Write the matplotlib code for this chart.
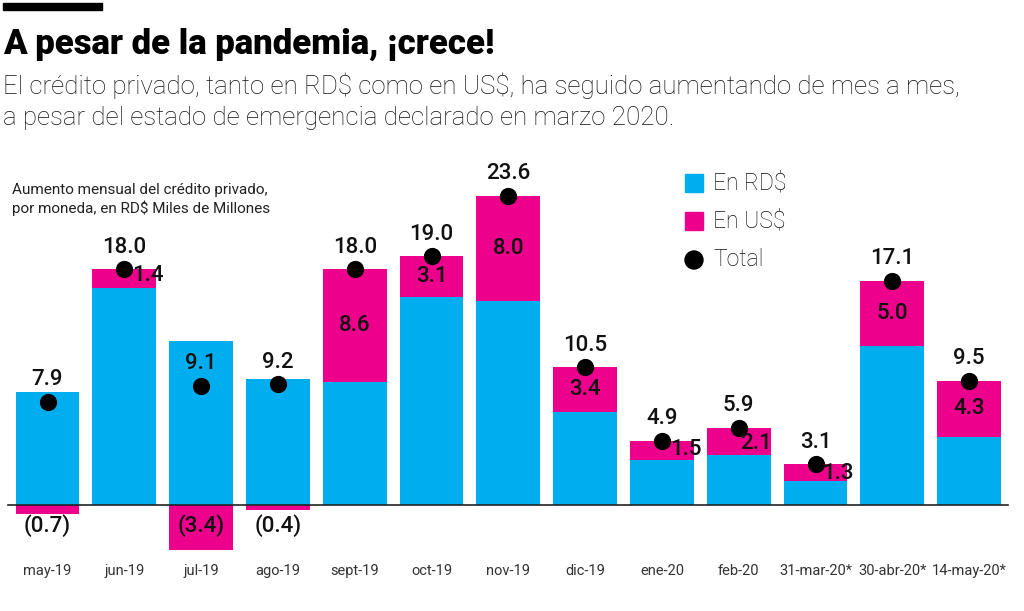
import matplotlib
matplotlib.use("Agg")
import matplotlib.pyplot as plt
import numpy as np

W, H = 1024, 611
CYAN = "#00aeef"
MAGENTA = "#ec008c"
INK = "#111111"
GRAY = "#333333"

months = ["may-19", "jun-19", "jul-19", "ago-19", "sept-19", "oct-19", "nov-19",
          "dic-19", "ene-20", "feb-20", "31-mar-20*", "30-abr-20*", "14-may-20*"]
total = [7.9, 18.0, 9.1, 9.2, 18.0, 19.0, 23.6, 10.5, 4.9, 5.9, 3.1, 17.1, 9.5]
usd = [-0.7, 1.4, -3.4, -0.4, 8.6, 3.1, 8.0, 3.4, 1.5, 2.1, 1.3, 5.0, 4.3]
rd = [round(t - u, 1) for t, u in zip(total, usd)]

plt.rcParams["font.family"] = ["Roboto", "DejaVu Sans"]

fig = plt.figure(figsize=(W / 100, H / 100), dpi=100)
fig.patch.set_facecolor("white")

# axes covering the whole canvas, limits chosen so bars land where the plate has them
ax = fig.add_axes([0, 0, 1, 1])
step = 76.8
x0px = 47.5
ppu = 13.1
base_px = H - 505
ax.set_xlim(-x0px / step, (W - x0px) / step)
ax.set_ylim(-base_px / ppu, (H - base_px) / ppu)
ax.axis("off")

x = np.arange(len(months))
usd_arr = np.array(usd)
rd_arr = np.array(rd)
usd_bottom = np.where(usd_arr >= 0, rd_arr, 0)
bw = 0.83
ax.bar(x, rd_arr, bw, color=CYAN, zorder=2)
ax.bar(x, usd_arr, bw, bottom=usd_bottom, color=MAGENTA, zorder=2)
ax.scatter(x, total, s=130, color="black", zorder=4)
ax.axhline(0, xmin=8 / W, xmax=1008 / W, color="#222222", lw=1.2, zorder=3)

LBL = dict(fontsize=16, fontweight="medium", color=INK, zorder=5, ha="center", va="center")

# total labels
for i, t in enumerate(total):
    ax.annotate(f"{t:.1f}", (i, t), xytext=(0, 22), textcoords="offset pixels", **LBL)

# US$ labels
small_off = {1: (24, -6), 8: (24, -9), 9: (17, -16), 10: (22, -9)}
for i, u in enumerate(usd):
    if u < 0:
        ax.annotate(f"({abs(u):.1f})", (i, 0), xytext=(0, -21), textcoords="offset pixels", **LBL)
    elif i in small_off:
        dx, dy = small_off[i]
        ax.annotate(f"{u:.1f}", (i, total[i]), xytext=(dx, dy), textcoords="offset pixels", **LBL)
    else:
        ax.text(i, rd[i] + u / 2, f"{u:.1f}", **LBL)

# month labels
for i, m in enumerate(months):
    ax.annotate(m, (i, 0), xytext=(0, -66), textcoords="offset pixels",
                ha="center", va="center", fontsize=10.5, color=GRAY)


def ftext(px, py, s, **kw):
    fig.text(px / W, 1 - py / H, s, **kw)


# header block
fig.patches.append(plt.Rectangle((3 / W, 1 - 10 / H), 99 / W, 7 / H,
                                 transform=fig.transFigure, color="black"))
ftext(3, 44, "A pesar de la pandemia, ¡crece!", fontsize=25, fontweight="black",
      va="center", ha="left", color="black")
ftext(3, 86, "El crédito privado, tanto en RD\\$ como en US\\$, ha seguido aumentando de mes a mes,",
      fontsize=18.6, fontweight="light", va="center", ha="left", color="#111111")
ftext(3, 118, "a pesar del estado de emergencia declarado en marzo 2020.",
      fontsize=18.6, fontweight="light", va="center", ha="left", color="#111111")
ftext(12, 190, "Aumento mensual del crédito privado,", fontsize=11, fontweight="normal",
      va="center", ha="left", color="#222222")
ftext(12, 208, "por moneda, en RD\\$ Miles de Millones", fontsize=11, fontweight="normal",
      va="center", ha="left", color="#222222")

# legend
leg = [("sq", CYAN, "En RD\\$", 183), ("sq", MAGENTA, "En US\\$", 221), ("dot", "black", "Total", 260)]
for kind, c, lab, py in leg:
    if kind == "sq":
        fig.patches.append(plt.Rectangle((685 / W, 1 - (py + 9) / H), 18 / W, 18 / H,
                                         transform=fig.transFigure, color=c))
    else:
        fig.patches.append(matplotlib.patches.Ellipse((694 / W, 1 - py / H), 18 / W, 18 / H,
                                                      transform=fig.transFigure, color=c))
    ftext(713, py, lab, fontsize=16.5, fontweight="light", va="center", ha="left", color="#111111")

fig.savefig("out.png", dpi=100, facecolor="white")
